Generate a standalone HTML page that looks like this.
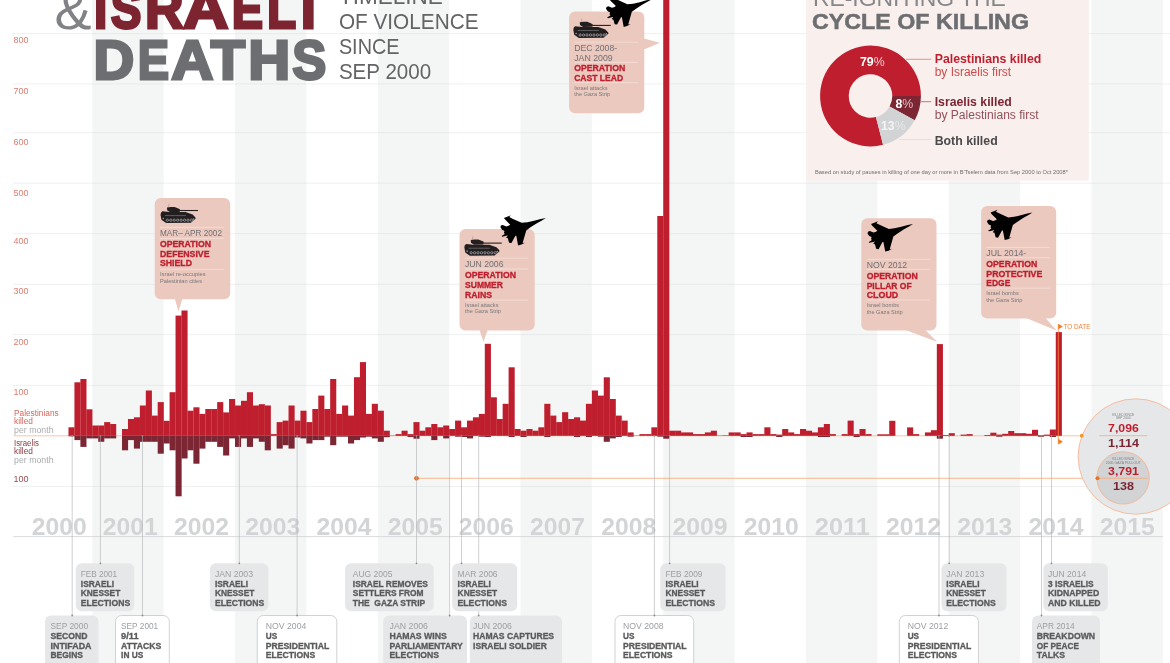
<!DOCTYPE html>
<html lang="en"><head><meta charset="utf-8"><title>Palestinian &amp; Israeli Deaths</title>
<style>html,body{margin:0;padding:0;background:#fff}body{width:1170px;height:663px;overflow:hidden}svg{display:block}text{font-family:"Liberation Sans", sans-serif}</style>
</head><body>
<svg width="1170" height="663" viewBox="0 0 1170 663">
<rect width="1170" height="663" fill="#fff"/>
<g fill="#f4f6f6">
<rect x="92.27" y="0" width="71.37" height="663"/>
<rect x="235.01" y="0" width="71.37" height="663"/>
<rect x="377.75" y="0" width="71.37" height="663"/>
<rect x="520.49" y="0" width="71.37" height="663"/>
<rect x="663.23" y="0" width="71.37" height="663"/>
<rect x="805.97" y="0" width="71.37" height="663"/>
<rect x="948.71" y="0" width="71.37" height="663"/>
<rect x="1091.45" y="0" width="71.37" height="663"/>
</g>
<g stroke="#d9dada" stroke-width="0.7" stroke-dasharray="1.2 0.8">
<line x1="13.5" y1="385.4" x2="1170" y2="385.4"/>
<line x1="13.5" y1="334.6" x2="1170" y2="334.6"/>
<line x1="13.5" y1="284.3" x2="1170" y2="284.3"/>
<line x1="13.5" y1="233.6" x2="1170" y2="233.6"/>
<line x1="13.5" y1="183.2" x2="1170" y2="183.2"/>
<line x1="13.5" y1="132.7" x2="1170" y2="132.7"/>
<line x1="13.5" y1="83.9" x2="1170" y2="83.9"/>
<line x1="13.5" y1="33.6" x2="1170" y2="33.6"/>
<line x1="13.5" y1="486.5" x2="1170" y2="486.5"/>
</g>
<g font-size="8.5" fill="#dc7c70">
<text x="13.6" y="394.8" textLength="15" lengthAdjust="spacingAndGlyphs">100</text>
<text x="13.6" y="344.5" textLength="15" lengthAdjust="spacingAndGlyphs">200</text>
<text x="13.6" y="294.3" textLength="15" lengthAdjust="spacingAndGlyphs">300</text>
<text x="13.6" y="243.6" textLength="15" lengthAdjust="spacingAndGlyphs">400</text>
<text x="13.6" y="195.5" textLength="15" lengthAdjust="spacingAndGlyphs">500</text>
<text x="13.6" y="144.9" textLength="15" lengthAdjust="spacingAndGlyphs">600</text>
<text x="13.6" y="94" textLength="15" lengthAdjust="spacingAndGlyphs">700</text>
<text x="13.6" y="43.1" textLength="15" lengthAdjust="spacingAndGlyphs">800</text>
</g>
<text x="13.6" y="482.3" font-size="8.5" fill="#9a4b52" textLength="15" lengthAdjust="spacingAndGlyphs">100</text>
<g font-size="8.3">
<text x="14" y="416.2" fill="#d6665c" textLength="44.7" lengthAdjust="spacingAndGlyphs">Palestinians</text>
<text x="14" y="424.4" fill="#d6665c">killed</text>
<text x="14" y="432.6" fill="#aaacae" textLength="39.6" lengthAdjust="spacingAndGlyphs">per month</text>
<text x="14" y="445.5" fill="#8a3a44" textLength="24.8" lengthAdjust="spacingAndGlyphs">Israelis</text>
<text x="14" y="454.2" fill="#8a3a44">killed</text>
<text x="14" y="462.5" fill="#aaacae" textLength="39.6" lengthAdjust="spacingAndGlyphs">per month</text>
</g>
<text x="54.6" y="29.2" font-size="54" fill="#808285" textLength="37" lengthAdjust="spacingAndGlyphs">&amp;</text>
<text y="27.7" font-size="55.8" font-weight="bold" fill="#7d2431" stroke="#7d2431" stroke-width="2.8" stroke-linejoin="miter"><tspan x="93.98" textLength="13.32" lengthAdjust="spacingAndGlyphs">I</tspan><tspan x="110.65" textLength="30.69" lengthAdjust="spacingAndGlyphs">S</tspan><tspan x="144.95" textLength="38.52" lengthAdjust="spacingAndGlyphs">R</tspan><tspan x="182.95" textLength="45.44" lengthAdjust="spacingAndGlyphs">A</tspan><tspan x="231.84" textLength="31.32" lengthAdjust="spacingAndGlyphs">E</tspan><tspan x="266.99" textLength="29.19" lengthAdjust="spacingAndGlyphs">L</tspan><tspan x="300.77" textLength="15.18" lengthAdjust="spacingAndGlyphs">I</tspan></text>
<text y="79.4" font-size="55.8" font-weight="bold" fill="#6d6e71" stroke="#6d6e71" stroke-width="2.8" stroke-linejoin="miter"><tspan x="93.46" textLength="40.75" lengthAdjust="spacingAndGlyphs">D</tspan><tspan x="137.84" textLength="31.32" lengthAdjust="spacingAndGlyphs">E</tspan><tspan x="171.28" textLength="42.15" lengthAdjust="spacingAndGlyphs">A</tspan><tspan x="210.8" textLength="34.4" lengthAdjust="spacingAndGlyphs">T</tspan><tspan x="248.26" textLength="42" lengthAdjust="spacingAndGlyphs">H</tspan><tspan x="292.22" textLength="34.06" lengthAdjust="spacingAndGlyphs">S</tspan></text>
<g font-size="21.4" fill="#636466">
<text x="338.9" y="4.2" textLength="104" lengthAdjust="spacingAndGlyphs">TIMELINE</text>
<text x="338.9" y="29.2" textLength="139.6" lengthAdjust="spacingAndGlyphs">OF VIOLENCE</text>
<text x="338.9" y="54" textLength="60.6" lengthAdjust="spacingAndGlyphs">SINCE</text>
<text x="338.9" y="78.8" textLength="92.3" lengthAdjust="spacingAndGlyphs">SEP 2000</text>
</g>
<line x1="13.5" y1="435.8" x2="1081.8" y2="435.8" stroke="#f7b58f" stroke-width="0.8"/>
<g fill="#be1e2d">
<rect x="68.48" y="427.3" width="6.1" height="8.5"/>
<rect x="74.43" y="382.3" width="6.1" height="53.5"/>
<rect x="80.38" y="379" width="6.1" height="56.8"/>
<rect x="86.32" y="409.3" width="6.1" height="26.5"/>
<rect x="92.27" y="425.5" width="6.1" height="10.3"/>
<rect x="98.22" y="425.5" width="6.1" height="10.3"/>
<rect x="104.17" y="422.1" width="6.1" height="13.7"/>
<rect x="110.11" y="424" width="6.1" height="11.8"/>
<rect x="122.01" y="429" width="6.1" height="6.8"/>
<rect x="127.96" y="419" width="6.1" height="16.8"/>
<rect x="133.9" y="417.3" width="6.1" height="18.5"/>
<rect x="139.85" y="405.5" width="6.1" height="30.3"/>
<rect x="145.8" y="390.5" width="6.1" height="45.3"/>
<rect x="151.75" y="415.6" width="6.1" height="20.2"/>
<rect x="157.69" y="402.1" width="6.1" height="33.7"/>
<rect x="163.64" y="420.8" width="6.1" height="15"/>
<rect x="169.59" y="392.2" width="6.1" height="43.6"/>
<rect x="175.54" y="315.6" width="6.1" height="120.2"/>
<rect x="181.48" y="310.5" width="6.1" height="125.3"/>
<rect x="187.43" y="410.7" width="6.1" height="25.1"/>
<rect x="193.38" y="407.3" width="6.1" height="28.5"/>
<rect x="199.33" y="413.9" width="6.1" height="21.9"/>
<rect x="205.27" y="409" width="6.1" height="26.8"/>
<rect x="211.22" y="409" width="6.1" height="26.8"/>
<rect x="217.17" y="402.1" width="6.1" height="33.7"/>
<rect x="223.12" y="412.4" width="6.1" height="23.4"/>
<rect x="229.06" y="399" width="6.1" height="36.8"/>
<rect x="235.01" y="405.5" width="6.1" height="30.3"/>
<rect x="240.96" y="400.8" width="6.1" height="35"/>
<rect x="246.91" y="392.2" width="6.1" height="43.6"/>
<rect x="252.85" y="405.5" width="6.1" height="30.3"/>
<rect x="258.8" y="404.2" width="6.1" height="31.6"/>
<rect x="264.75" y="405.5" width="6.1" height="30.3"/>
<rect x="270.69" y="434.1" width="6.1" height="1.7"/>
<rect x="276.64" y="422.1" width="6.1" height="13.7"/>
<rect x="282.59" y="420.6" width="6.1" height="15.2"/>
<rect x="288.54" y="405.5" width="6.1" height="30.3"/>
<rect x="294.49" y="420.6" width="6.1" height="15.2"/>
<rect x="300.43" y="410.7" width="6.1" height="25.1"/>
<rect x="306.38" y="422.1" width="6.1" height="13.7"/>
<rect x="312.33" y="409" width="6.1" height="26.8"/>
<rect x="318.28" y="395.6" width="6.1" height="40.2"/>
<rect x="324.22" y="409" width="6.1" height="26.8"/>
<rect x="330.17" y="379" width="6.1" height="56.8"/>
<rect x="336.12" y="413.9" width="6.1" height="21.9"/>
<rect x="342.06" y="405.5" width="6.1" height="30.3"/>
<rect x="348.01" y="415.6" width="6.1" height="20.2"/>
<rect x="353.96" y="377.2" width="6.1" height="58.6"/>
<rect x="359.91" y="362.1" width="6.1" height="73.7"/>
<rect x="365.86" y="413.9" width="6.1" height="21.9"/>
<rect x="371.8" y="403.8" width="6.1" height="32"/>
<rect x="377.75" y="410.7" width="6.1" height="25.1"/>
<rect x="383.7" y="430.7" width="6.1" height="5.1"/>
<rect x="389.65" y="435.5" width="6.1" height="0.3"/>
<rect x="395.59" y="434.1" width="6.1" height="1.7"/>
<rect x="401.54" y="430.7" width="6.1" height="5.1"/>
<rect x="407.49" y="434.1" width="6.1" height="1.7"/>
<rect x="413.44" y="422.1" width="6.1" height="13.7"/>
<rect x="419.38" y="430.7" width="6.1" height="5.1"/>
<rect x="425.33" y="427.3" width="6.1" height="8.5"/>
<rect x="431.28" y="424" width="6.1" height="11.8"/>
<rect x="437.23" y="427.3" width="6.1" height="8.5"/>
<rect x="443.17" y="425.5" width="6.1" height="10.3"/>
<rect x="449.12" y="429" width="6.1" height="6.8"/>
<rect x="455.07" y="420.6" width="6.1" height="15.2"/>
<rect x="461.02" y="427.3" width="6.1" height="8.5"/>
<rect x="466.96" y="420.6" width="6.1" height="15.2"/>
<rect x="472.91" y="417.3" width="6.1" height="18.5"/>
<rect x="478.86" y="413.9" width="6.1" height="21.9"/>
<rect x="484.81" y="343.8" width="6.1" height="92"/>
<rect x="490.75" y="397.3" width="6.1" height="38.5"/>
<rect x="496.7" y="419" width="6.1" height="16.8"/>
<rect x="502.65" y="403.8" width="6.1" height="32"/>
<rect x="508.6" y="367.3" width="6.1" height="68.5"/>
<rect x="514.54" y="429" width="6.1" height="6.8"/>
<rect x="520.49" y="430.7" width="6.1" height="5.1"/>
<rect x="526.44" y="429" width="6.1" height="6.8"/>
<rect x="532.39" y="430.7" width="6.1" height="5.1"/>
<rect x="538.33" y="427.3" width="6.1" height="8.5"/>
<rect x="544.28" y="403.8" width="6.1" height="32"/>
<rect x="550.23" y="415.6" width="6.1" height="20.2"/>
<rect x="556.18" y="422.1" width="6.1" height="13.7"/>
<rect x="562.12" y="412.2" width="6.1" height="23.6"/>
<rect x="568.07" y="419" width="6.1" height="16.8"/>
<rect x="574.02" y="417.3" width="6.1" height="18.5"/>
<rect x="579.97" y="420.6" width="6.1" height="15.2"/>
<rect x="585.91" y="403.8" width="6.1" height="32"/>
<rect x="591.86" y="390.5" width="6.1" height="45.3"/>
<rect x="597.81" y="395.6" width="6.1" height="40.2"/>
<rect x="603.75" y="377.3" width="6.1" height="58.5"/>
<rect x="609.7" y="399" width="6.1" height="36.8"/>
<rect x="615.65" y="415.6" width="6.1" height="20.2"/>
<rect x="621.6" y="420.6" width="6.1" height="15.2"/>
<rect x="627.55" y="432.4" width="6.1" height="3.4"/>
<rect x="633.49" y="435.5" width="6.1" height="0.3"/>
<rect x="639.44" y="434.1" width="6.1" height="1.7"/>
<rect x="645.39" y="434.1" width="6.1" height="1.7"/>
<rect x="651.34" y="427.3" width="6.1" height="8.5"/>
<rect x="657.28" y="216" width="6.1" height="219.8"/>
<rect x="663.23" y="-9.2" width="6.1" height="445"/>
<rect x="669.18" y="430.7" width="6.1" height="5.1"/>
<rect x="675.12" y="430.7" width="6.1" height="5.1"/>
<rect x="681.07" y="432.4" width="6.1" height="3.4"/>
<rect x="687.02" y="432.4" width="6.1" height="3.4"/>
<rect x="692.97" y="434.1" width="6.1" height="1.7"/>
<rect x="698.92" y="434.1" width="6.1" height="1.7"/>
<rect x="704.86" y="432.4" width="6.1" height="3.4"/>
<rect x="710.81" y="430.7" width="6.1" height="5.1"/>
<rect x="716.76" y="435.5" width="6.1" height="0.3"/>
<rect x="722.71" y="435.3" width="6.1" height="0.5"/>
<rect x="728.65" y="432.4" width="6.1" height="3.4"/>
<rect x="734.6" y="432.4" width="6.1" height="3.4"/>
<rect x="740.55" y="434.1" width="6.1" height="1.7"/>
<rect x="746.5" y="432.4" width="6.1" height="3.4"/>
<rect x="752.44" y="434.1" width="6.1" height="1.7"/>
<rect x="758.39" y="434.1" width="6.1" height="1.7"/>
<rect x="764.34" y="427.3" width="6.1" height="8.5"/>
<rect x="770.29" y="434.1" width="6.1" height="1.7"/>
<rect x="776.23" y="434.6" width="6.1" height="1.2"/>
<rect x="782.18" y="429" width="6.1" height="6.8"/>
<rect x="788.13" y="432.4" width="6.1" height="3.4"/>
<rect x="794.08" y="434.1" width="6.1" height="1.7"/>
<rect x="800.02" y="429" width="6.1" height="6.8"/>
<rect x="805.97" y="430.7" width="6.1" height="5.1"/>
<rect x="811.92" y="432.4" width="6.1" height="3.4"/>
<rect x="817.87" y="427.3" width="6.1" height="8.5"/>
<rect x="823.81" y="424" width="6.1" height="11.8"/>
<rect x="829.76" y="434.1" width="6.1" height="1.7"/>
<rect x="841.66" y="434.1" width="6.1" height="1.7"/>
<rect x="847.6" y="420.6" width="6.1" height="15.2"/>
<rect x="853.55" y="434.1" width="6.1" height="1.7"/>
<rect x="859.5" y="429" width="6.1" height="6.8"/>
<rect x="865.45" y="434.1" width="6.1" height="1.7"/>
<rect x="877.34" y="434.3" width="6.1" height="1.5"/>
<rect x="883.29" y="434.3" width="6.1" height="1.5"/>
<rect x="889.24" y="420.8" width="6.1" height="15"/>
<rect x="907.08" y="427.4" width="6.1" height="8.4"/>
<rect x="913.03" y="434.1" width="6.1" height="1.7"/>
<rect x="924.92" y="432.4" width="6.1" height="3.4"/>
<rect x="930.87" y="430.2" width="6.1" height="5.6"/>
<rect x="936.82" y="344.1" width="6.1" height="91.7"/>
<rect x="942.76" y="435" width="6.1" height="0.8"/>
<rect x="948.71" y="433.2" width="6.1" height="2.6"/>
<rect x="960.61" y="434.6" width="6.1" height="1.2"/>
<rect x="966.55" y="434.1" width="6.1" height="1.7"/>
<rect x="984.4" y="435" width="6.1" height="0.8"/>
<rect x="990.34" y="432.7" width="6.1" height="3.1"/>
<rect x="996.29" y="434.6" width="6.1" height="1.2"/>
<rect x="1002.24" y="433.8" width="6.1" height="2"/>
<rect x="1008.19" y="431" width="6.1" height="4.8"/>
<rect x="1014.13" y="433.2" width="6.1" height="2.6"/>
<rect x="1020.08" y="433.2" width="6.1" height="2.6"/>
<rect x="1026.03" y="433.8" width="6.1" height="2"/>
<rect x="1031.98" y="429.8" width="6.1" height="6"/>
<rect x="1037.92" y="435.2" width="6.1" height="0.6"/>
<rect x="1043.87" y="434.6" width="6.1" height="1.2"/>
<rect x="1049.82" y="429.5" width="6.1" height="6.3"/>
<rect x="1055.77" y="332.1" width="6.1" height="103.7"/>
</g>
<g fill="#7c2633">
<rect x="68.48" y="435.8" width="6.1" height="0.5"/>
<rect x="74.43" y="435.8" width="6.1" height="4.3"/>
<rect x="80.38" y="435.8" width="6.1" height="11.1"/>
<rect x="86.32" y="435.8" width="6.1" height="2.6"/>
<rect x="92.27" y="435.8" width="6.1" height="2.6"/>
<rect x="98.22" y="435.8" width="6.1" height="6"/>
<rect x="104.17" y="435.8" width="6.1" height="2.6"/>
<rect x="110.11" y="435.8" width="6.1" height="2.6"/>
<rect x="122.01" y="435.8" width="6.1" height="14.5"/>
<rect x="127.96" y="435.8" width="6.1" height="4.3"/>
<rect x="133.9" y="435.8" width="6.1" height="12.8"/>
<rect x="139.85" y="435.8" width="6.1" height="6"/>
<rect x="145.8" y="435.8" width="6.1" height="6"/>
<rect x="151.75" y="435.8" width="6.1" height="6"/>
<rect x="157.69" y="435.8" width="6.1" height="17.9"/>
<rect x="163.64" y="435.8" width="6.1" height="7.7"/>
<rect x="169.59" y="435.8" width="6.1" height="14.5"/>
<rect x="175.54" y="435.8" width="6.1" height="60.5"/>
<rect x="181.48" y="435.8" width="6.1" height="22.7"/>
<rect x="187.43" y="435.8" width="6.1" height="14.5"/>
<rect x="193.38" y="435.8" width="6.1" height="27.9"/>
<rect x="199.33" y="435.8" width="6.1" height="12.8"/>
<rect x="205.27" y="435.8" width="6.1" height="6"/>
<rect x="211.22" y="435.8" width="6.1" height="6"/>
<rect x="217.17" y="435.8" width="6.1" height="11.1"/>
<rect x="223.12" y="435.8" width="6.1" height="19.7"/>
<rect x="229.06" y="435.8" width="6.1" height="2.6"/>
<rect x="235.01" y="435.8" width="6.1" height="11.1"/>
<rect x="240.96" y="435.8" width="6.1" height="2.6"/>
<rect x="246.91" y="435.8" width="6.1" height="11.1"/>
<rect x="252.85" y="435.8" width="6.1" height="2.6"/>
<rect x="258.8" y="435.8" width="6.1" height="6"/>
<rect x="264.75" y="435.8" width="6.1" height="14.5"/>
<rect x="276.64" y="435.8" width="6.1" height="12.8"/>
<rect x="282.59" y="435.8" width="6.1" height="9.4"/>
<rect x="288.54" y="435.8" width="6.1" height="12.8"/>
<rect x="294.49" y="435.8" width="6.1" height="1.7"/>
<rect x="300.43" y="435.8" width="6.1" height="2.6"/>
<rect x="306.38" y="435.8" width="6.1" height="7.7"/>
<rect x="312.33" y="435.8" width="6.1" height="4.3"/>
<rect x="318.28" y="435.8" width="6.1" height="4.3"/>
<rect x="324.22" y="435.8" width="6.1" height="0.9"/>
<rect x="330.17" y="435.8" width="6.1" height="9.4"/>
<rect x="336.12" y="435.8" width="6.1" height="0.9"/>
<rect x="342.06" y="435.8" width="6.1" height="0.9"/>
<rect x="348.01" y="435.8" width="6.1" height="7.7"/>
<rect x="353.96" y="435.8" width="6.1" height="4.3"/>
<rect x="359.91" y="435.8" width="6.1" height="1.7"/>
<rect x="365.86" y="435.8" width="6.1" height="0.9"/>
<rect x="371.8" y="435.8" width="6.1" height="2.6"/>
<rect x="377.75" y="435.8" width="6.1" height="6"/>
<rect x="383.7" y="435.8" width="6.1" height="1.4"/>
<rect x="407.49" y="435.8" width="6.1" height="1.2"/>
<rect x="413.44" y="435.8" width="6.1" height="2.9"/>
<rect x="431.28" y="435.8" width="6.1" height="4.3"/>
<rect x="443.17" y="435.8" width="6.1" height="2.6"/>
<rect x="455.07" y="435.8" width="6.1" height="0.9"/>
<rect x="461.02" y="435.8" width="6.1" height="1.2"/>
<rect x="466.96" y="435.8" width="6.1" height="2.6"/>
<rect x="478.86" y="435.8" width="6.1" height="0.9"/>
<rect x="484.81" y="435.8" width="6.1" height="1.2"/>
<rect x="508.6" y="435.8" width="6.1" height="1.2"/>
<rect x="520.49" y="435.8" width="6.1" height="1.2"/>
<rect x="544.28" y="435.8" width="6.1" height="1.2"/>
<rect x="574.02" y="435.8" width="6.1" height="1.2"/>
<rect x="585.91" y="435.8" width="6.1" height="1.2"/>
<rect x="597.81" y="435.8" width="6.1" height="0.9"/>
<rect x="603.75" y="435.8" width="6.1" height="6"/>
<rect x="609.7" y="435.8" width="6.1" height="2.6"/>
<rect x="615.65" y="435.8" width="6.1" height="1.2"/>
<rect x="627.55" y="435.8" width="6.1" height="0.9"/>
<rect x="657.28" y="435.8" width="6.1" height="0.9"/>
<rect x="663.23" y="435.8" width="6.1" height="2.9"/>
<rect x="740.55" y="435.8" width="6.1" height="1.2"/>
<rect x="746.5" y="435.8" width="6.1" height="1.2"/>
<rect x="776.23" y="435.8" width="6.1" height="1.2"/>
<rect x="817.87" y="435.8" width="6.1" height="1.2"/>
<rect x="823.81" y="435.8" width="6.1" height="1.2"/>
<rect x="853.55" y="435.8" width="6.1" height="1.2"/>
<rect x="936.82" y="435.8" width="6.1" height="2.9"/>
<rect x="996.29" y="435.8" width="6.1" height="0.9"/>
<rect x="1037.92" y="435.8" width="6.1" height="0.9"/>
<rect x="1049.82" y="435.8" width="6.1" height="1.2"/>
</g>
<g stroke="#d9583f" stroke-width="0.3" opacity="0.4">
<line x1="74.43" y1="427.3" x2="74.43" y2="435.8"/>
<line x1="80.38" y1="382.3" x2="80.38" y2="435.8"/>
<line x1="86.32" y1="409.3" x2="86.32" y2="435.8"/>
<line x1="92.27" y1="425.5" x2="92.27" y2="435.8"/>
<line x1="98.22" y1="425.5" x2="98.22" y2="435.8"/>
<line x1="104.17" y1="425.5" x2="104.17" y2="435.8"/>
<line x1="110.11" y1="424" x2="110.11" y2="435.8"/>
<line x1="127.96" y1="429" x2="127.96" y2="435.8"/>
<line x1="133.9" y1="419" x2="133.9" y2="435.8"/>
<line x1="139.85" y1="417.3" x2="139.85" y2="435.8"/>
<line x1="145.8" y1="405.5" x2="145.8" y2="435.8"/>
<line x1="151.75" y1="415.6" x2="151.75" y2="435.8"/>
<line x1="157.69" y1="415.6" x2="157.69" y2="435.8"/>
<line x1="163.64" y1="420.8" x2="163.64" y2="435.8"/>
<line x1="169.59" y1="420.8" x2="169.59" y2="435.8"/>
<line x1="175.54" y1="392.2" x2="175.54" y2="435.8"/>
<line x1="181.48" y1="315.6" x2="181.48" y2="435.8"/>
<line x1="187.43" y1="410.7" x2="187.43" y2="435.8"/>
<line x1="193.38" y1="410.7" x2="193.38" y2="435.8"/>
<line x1="199.33" y1="413.9" x2="199.33" y2="435.8"/>
<line x1="205.27" y1="413.9" x2="205.27" y2="435.8"/>
<line x1="211.22" y1="409" x2="211.22" y2="435.8"/>
<line x1="217.17" y1="409" x2="217.17" y2="435.8"/>
<line x1="223.12" y1="412.4" x2="223.12" y2="435.8"/>
<line x1="229.06" y1="412.4" x2="229.06" y2="435.8"/>
<line x1="235.01" y1="405.5" x2="235.01" y2="435.8"/>
<line x1="240.96" y1="405.5" x2="240.96" y2="435.8"/>
<line x1="246.91" y1="400.8" x2="246.91" y2="435.8"/>
<line x1="252.85" y1="405.5" x2="252.85" y2="435.8"/>
<line x1="258.8" y1="405.5" x2="258.8" y2="435.8"/>
<line x1="264.75" y1="405.5" x2="264.75" y2="435.8"/>
<line x1="282.59" y1="422.1" x2="282.59" y2="435.8"/>
<line x1="288.54" y1="420.6" x2="288.54" y2="435.8"/>
<line x1="294.49" y1="420.6" x2="294.49" y2="435.8"/>
<line x1="300.43" y1="420.6" x2="300.43" y2="435.8"/>
<line x1="306.38" y1="422.1" x2="306.38" y2="435.8"/>
<line x1="312.33" y1="422.1" x2="312.33" y2="435.8"/>
<line x1="318.28" y1="409" x2="318.28" y2="435.8"/>
<line x1="324.22" y1="409" x2="324.22" y2="435.8"/>
<line x1="330.17" y1="409" x2="330.17" y2="435.8"/>
<line x1="336.12" y1="413.9" x2="336.12" y2="435.8"/>
<line x1="342.06" y1="413.9" x2="342.06" y2="435.8"/>
<line x1="348.01" y1="415.6" x2="348.01" y2="435.8"/>
<line x1="353.96" y1="415.6" x2="353.96" y2="435.8"/>
<line x1="359.91" y1="377.2" x2="359.91" y2="435.8"/>
<line x1="365.86" y1="413.9" x2="365.86" y2="435.8"/>
<line x1="371.8" y1="413.9" x2="371.8" y2="435.8"/>
<line x1="377.75" y1="410.7" x2="377.75" y2="435.8"/>
<line x1="383.7" y1="430.7" x2="383.7" y2="435.8"/>
<line x1="419.38" y1="430.7" x2="419.38" y2="435.8"/>
<line x1="425.33" y1="430.7" x2="425.33" y2="435.8"/>
<line x1="431.28" y1="427.3" x2="431.28" y2="435.8"/>
<line x1="437.23" y1="427.3" x2="437.23" y2="435.8"/>
<line x1="443.17" y1="427.3" x2="443.17" y2="435.8"/>
<line x1="449.12" y1="429" x2="449.12" y2="435.8"/>
<line x1="455.07" y1="429" x2="455.07" y2="435.8"/>
<line x1="461.02" y1="427.3" x2="461.02" y2="435.8"/>
<line x1="466.96" y1="427.3" x2="466.96" y2="435.8"/>
<line x1="472.91" y1="420.6" x2="472.91" y2="435.8"/>
<line x1="478.86" y1="417.3" x2="478.86" y2="435.8"/>
<line x1="484.81" y1="413.9" x2="484.81" y2="435.8"/>
<line x1="490.75" y1="397.3" x2="490.75" y2="435.8"/>
<line x1="496.7" y1="419" x2="496.7" y2="435.8"/>
<line x1="502.65" y1="419" x2="502.65" y2="435.8"/>
<line x1="508.6" y1="403.8" x2="508.6" y2="435.8"/>
<line x1="514.54" y1="429" x2="514.54" y2="435.8"/>
<line x1="520.49" y1="430.7" x2="520.49" y2="435.8"/>
<line x1="526.44" y1="430.7" x2="526.44" y2="435.8"/>
<line x1="532.39" y1="430.7" x2="532.39" y2="435.8"/>
<line x1="538.33" y1="430.7" x2="538.33" y2="435.8"/>
<line x1="544.28" y1="427.3" x2="544.28" y2="435.8"/>
<line x1="550.23" y1="415.6" x2="550.23" y2="435.8"/>
<line x1="556.18" y1="422.1" x2="556.18" y2="435.8"/>
<line x1="562.12" y1="422.1" x2="562.12" y2="435.8"/>
<line x1="568.07" y1="419" x2="568.07" y2="435.8"/>
<line x1="574.02" y1="419" x2="574.02" y2="435.8"/>
<line x1="579.97" y1="420.6" x2="579.97" y2="435.8"/>
<line x1="585.91" y1="420.6" x2="585.91" y2="435.8"/>
<line x1="591.86" y1="403.8" x2="591.86" y2="435.8"/>
<line x1="597.81" y1="395.6" x2="597.81" y2="435.8"/>
<line x1="603.75" y1="395.6" x2="603.75" y2="435.8"/>
<line x1="609.7" y1="399" x2="609.7" y2="435.8"/>
<line x1="615.65" y1="415.6" x2="615.65" y2="435.8"/>
<line x1="621.6" y1="420.6" x2="621.6" y2="435.8"/>
<line x1="657.28" y1="427.3" x2="657.28" y2="435.8"/>
<line x1="669.18" y1="430.7" x2="669.18" y2="435.8"/>
<line x1="675.12" y1="430.7" x2="675.12" y2="435.8"/>
<line x1="805.97" y1="430.7" x2="805.97" y2="435.8"/>
<line x1="823.81" y1="427.3" x2="823.81" y2="435.8"/>
<line x1="936.82" y1="430.2" x2="936.82" y2="435.8"/>
<line x1="1055.77" y1="429.5" x2="1055.77" y2="435.8"/>
</g>
<line x1="1058.3" y1="324" x2="1058.3" y2="444" stroke="#f5893d" stroke-width="0.8"/>
<path d="M1058.3 323.8 L1062.8 326.6 L1058.3 329.4 Z" fill="#f47b20"/>
<path d="M1058.3 438.8 L1062.8 441.7 L1058.3 444.6 Z" fill="#f47b20"/>
<text x="1063.4" y="329.3" font-size="6.9" fill="#f4823a" textLength="27" lengthAdjust="spacingAndGlyphs">TO DATE</text>
<line x1="416.5" y1="478.3" x2="1097.5" y2="478.3" stroke="#f7a877" stroke-width="0.8"/>
<circle cx="416.5" cy="478.3" r="2.4" fill="#f26f21"/>
<line x1="13.5" y1="536.6" x2="1163" y2="536.6" stroke="#cfd0d2" stroke-width="0.8"/>
<g font-size="23" font-weight="bold" fill="#d3d4d6">
<text x="31.65" y="534.6" textLength="55" lengthAdjust="spacingAndGlyphs">2000</text>
<text x="102.85" y="534.6" textLength="55" lengthAdjust="spacingAndGlyphs">2001</text>
<text x="174.05" y="534.6" textLength="55" lengthAdjust="spacingAndGlyphs">2002</text>
<text x="245.25" y="534.6" textLength="55" lengthAdjust="spacingAndGlyphs">2003</text>
<text x="316.45" y="534.6" textLength="55" lengthAdjust="spacingAndGlyphs">2004</text>
<text x="387.65" y="534.6" textLength="55" lengthAdjust="spacingAndGlyphs">2005</text>
<text x="458.85" y="534.6" textLength="55" lengthAdjust="spacingAndGlyphs">2006</text>
<text x="530.05" y="534.6" textLength="55" lengthAdjust="spacingAndGlyphs">2007</text>
<text x="601.25" y="534.6" textLength="55" lengthAdjust="spacingAndGlyphs">2008</text>
<text x="672.45" y="534.6" textLength="55" lengthAdjust="spacingAndGlyphs">2009</text>
<text x="743.65" y="534.6" textLength="55" lengthAdjust="spacingAndGlyphs">2010</text>
<text x="814.85" y="534.6" textLength="55" lengthAdjust="spacingAndGlyphs">2011</text>
<text x="886.05" y="534.6" textLength="55" lengthAdjust="spacingAndGlyphs">2012</text>
<text x="957.25" y="534.6" textLength="55" lengthAdjust="spacingAndGlyphs">2013</text>
<text x="1028.45" y="534.6" textLength="55" lengthAdjust="spacingAndGlyphs">2014</text>
<text x="1099.65" y="534.6" textLength="55" lengthAdjust="spacingAndGlyphs">2015</text>
</g>
<g stroke="#aeb0b3" stroke-width="0.6">
<line x1="72.2" y1="435.8" x2="72.2" y2="615.5"/>
<line x1="142.5" y1="435.8" x2="142.5" y2="615.5"/>
<line x1="297.1" y1="435.8" x2="297.1" y2="615.5"/>
<line x1="449.6" y1="435.8" x2="449.6" y2="615.5"/>
<line x1="478.7" y1="435.8" x2="478.7" y2="615.5"/>
<line x1="654.4" y1="435.8" x2="654.4" y2="615.5"/>
<line x1="939" y1="435.8" x2="939" y2="615.5"/>
<line x1="1041.5" y1="435.8" x2="1041.5" y2="615.5"/>
<line x1="100.4" y1="435.8" x2="100.4" y2="563.3"/>
<line x1="239.3" y1="435.8" x2="239.3" y2="563.3"/>
<line x1="416.5" y1="435.8" x2="416.5" y2="563.3"/>
<line x1="461.5" y1="435.8" x2="461.5" y2="563.3"/>
<line x1="669.6" y1="435.8" x2="669.6" y2="563.3"/>
<line x1="949.2" y1="435.8" x2="949.2" y2="563.3"/>
<line x1="1051.5" y1="435.8" x2="1051.5" y2="563.3"/>
</g>
<g fill="#8a8c8f">
<circle cx="72.2" cy="435.8" r="0.9"/>
<circle cx="142.5" cy="435.8" r="0.9"/>
<circle cx="297.1" cy="435.8" r="0.9"/>
<circle cx="449.6" cy="435.8" r="0.9"/>
<circle cx="478.7" cy="435.8" r="0.9"/>
<circle cx="654.4" cy="435.8" r="0.9"/>
<circle cx="939" cy="435.8" r="0.9"/>
<circle cx="1041.5" cy="435.8" r="0.9"/>
<circle cx="100.4" cy="435.8" r="0.9"/>
<circle cx="239.3" cy="435.8" r="0.9"/>
<circle cx="416.5" cy="435.8" r="0.9"/>
<circle cx="461.5" cy="435.8" r="0.9"/>
<circle cx="669.6" cy="435.8" r="0.9"/>
<circle cx="949.2" cy="435.8" r="0.9"/>
<circle cx="1051.5" cy="435.8" r="0.9"/>
</g>
<rect x="45" y="615.5" width="53.4" height="54.5" rx="6" fill="#e6e7e8"/>
<circle cx="72.2" cy="615.5" r="0.9" fill="#8a8c8f"/>
<text x="50.5" y="629.2" font-size="8.5" fill="#9c9ea1" textLength="37.6" lengthAdjust="spacingAndGlyphs">SEP 2000</text>
<text x="50.5" y="638.95" font-size="8.5" font-weight="bold" fill="#595a5c" stroke="#595a5c" stroke-width="0.3" textLength="37.1" lengthAdjust="spacingAndGlyphs">SECOND</text>
<text x="50.5" y="648.62" font-size="8.5" font-weight="bold" fill="#595a5c" stroke="#595a5c" stroke-width="0.3" textLength="41" lengthAdjust="spacingAndGlyphs">INTIFADA</text>
<text x="50.5" y="658.29" font-size="8.5" font-weight="bold" fill="#595a5c" stroke="#595a5c" stroke-width="0.3" textLength="32.4" lengthAdjust="spacingAndGlyphs">BEGINS</text>
<rect x="115.5" y="615.5" width="53.8" height="54.5" rx="6" fill="#fff" stroke="#c4c6c8" stroke-width="0.8"/>
<circle cx="142.5" cy="615.5" r="0.9" fill="#8a8c8f"/>
<text x="121.1" y="629.2" font-size="8.5" fill="#9c9ea1" textLength="37.1" lengthAdjust="spacingAndGlyphs">SEP 2001</text>
<text x="121.1" y="638.95" font-size="8.5" font-weight="bold" fill="#595a5c" stroke="#595a5c" stroke-width="0.3" textLength="17.6" lengthAdjust="spacingAndGlyphs">9/11</text>
<text x="121.1" y="648.62" font-size="8.5" font-weight="bold" fill="#595a5c" stroke="#595a5c" stroke-width="0.3" textLength="40.2" lengthAdjust="spacingAndGlyphs">ATTACKS</text>
<text x="121.1" y="658.29" font-size="8.5" font-weight="bold" fill="#595a5c" stroke="#595a5c" stroke-width="0.3" textLength="22.2" lengthAdjust="spacingAndGlyphs">IN US</text>
<rect x="257.3" y="615.5" width="79.5" height="54.5" rx="6" fill="#fff" stroke="#c4c6c8" stroke-width="0.8"/>
<circle cx="297.1" cy="615.5" r="0.9" fill="#8a8c8f"/>
<text x="265.8" y="629.2" font-size="8.5" fill="#9c9ea1" textLength="40.5" lengthAdjust="spacingAndGlyphs">NOV 2004</text>
<text x="265.8" y="638.95" font-size="8.5" font-weight="bold" fill="#595a5c" stroke="#595a5c" stroke-width="0.3" textLength="11.4" lengthAdjust="spacingAndGlyphs">US</text>
<text x="265.8" y="648.62" font-size="8.5" font-weight="bold" fill="#595a5c" stroke="#595a5c" stroke-width="0.3" textLength="63.5" lengthAdjust="spacingAndGlyphs">PRESIDENTIAL</text>
<text x="265.8" y="658.29" font-size="8.5" font-weight="bold" fill="#595a5c" stroke="#595a5c" stroke-width="0.3" textLength="49.4" lengthAdjust="spacingAndGlyphs">ELECTIONS</text>
<rect x="383.2" y="615.5" width="83.8" height="54.5" rx="6" fill="#e6e7e8"/>
<circle cx="449.6" cy="615.5" r="0.9" fill="#8a8c8f"/>
<text x="389.6" y="629.2" font-size="8.5" fill="#9c9ea1" textLength="38.4" lengthAdjust="spacingAndGlyphs">JAN 2006</text>
<text x="389.6" y="638.95" font-size="8.5" font-weight="bold" fill="#595a5c" stroke="#595a5c" stroke-width="0.3" textLength="57.2" lengthAdjust="spacingAndGlyphs">HAMAS WINS</text>
<text x="389.6" y="648.62" font-size="8.5" font-weight="bold" fill="#595a5c" stroke="#595a5c" stroke-width="0.3" textLength="73.3" lengthAdjust="spacingAndGlyphs">PARLIAMENTARY</text>
<text x="389.6" y="658.29" font-size="8.5" font-weight="bold" fill="#595a5c" stroke="#595a5c" stroke-width="0.3" textLength="49.4" lengthAdjust="spacingAndGlyphs">ELECTIONS</text>
<rect x="469.8" y="615.5" width="92.2" height="54.5" rx="6" fill="#e6e7e8"/>
<circle cx="478.7" cy="615.5" r="0.9" fill="#8a8c8f"/>
<text x="473.1" y="629.2" font-size="8.5" fill="#9c9ea1" textLength="38.8" lengthAdjust="spacingAndGlyphs">JUN 2006</text>
<text x="473.1" y="638.95" font-size="8.5" font-weight="bold" fill="#595a5c" stroke="#595a5c" stroke-width="0.3" textLength="81" lengthAdjust="spacingAndGlyphs">HAMAS CAPTURES</text>
<text x="473.1" y="648.62" font-size="8.5" font-weight="bold" fill="#595a5c" stroke="#595a5c" stroke-width="0.3" textLength="73.8" lengthAdjust="spacingAndGlyphs">ISRAELI SOLDIER</text>
<rect x="615" y="615.5" width="78.7" height="54.5" rx="6" fill="#fff" stroke="#c4c6c8" stroke-width="0.8"/>
<circle cx="654.4" cy="615.5" r="0.9" fill="#8a8c8f"/>
<text x="623.1" y="629.2" font-size="8.5" fill="#9c9ea1" textLength="40.5" lengthAdjust="spacingAndGlyphs">NOV 2008</text>
<text x="623.1" y="638.95" font-size="8.5" font-weight="bold" fill="#595a5c" stroke="#595a5c" stroke-width="0.3" textLength="11.4" lengthAdjust="spacingAndGlyphs">US</text>
<text x="623.1" y="648.62" font-size="8.5" font-weight="bold" fill="#595a5c" stroke="#595a5c" stroke-width="0.3" textLength="63.5" lengthAdjust="spacingAndGlyphs">PRESIDENTIAL</text>
<text x="623.1" y="658.29" font-size="8.5" font-weight="bold" fill="#595a5c" stroke="#595a5c" stroke-width="0.3" textLength="49.4" lengthAdjust="spacingAndGlyphs">ELECTIONS</text>
<rect x="899.3" y="615.5" width="79.1" height="54.5" rx="6" fill="#fff" stroke="#c4c6c8" stroke-width="0.8"/>
<circle cx="939" cy="615.5" r="0.9" fill="#8a8c8f"/>
<text x="907.7" y="629.2" font-size="8.5" fill="#9c9ea1" textLength="40.6" lengthAdjust="spacingAndGlyphs">NOV 2012</text>
<text x="907.7" y="638.95" font-size="8.5" font-weight="bold" fill="#595a5c" stroke="#595a5c" stroke-width="0.3" textLength="11.4" lengthAdjust="spacingAndGlyphs">US</text>
<text x="907.7" y="648.62" font-size="8.5" font-weight="bold" fill="#595a5c" stroke="#595a5c" stroke-width="0.3" textLength="63.5" lengthAdjust="spacingAndGlyphs">PRESIDENTIAL</text>
<text x="907.7" y="658.29" font-size="8.5" font-weight="bold" fill="#595a5c" stroke="#595a5c" stroke-width="0.3" textLength="49.4" lengthAdjust="spacingAndGlyphs">ELECTIONS</text>
<rect x="1032" y="615.5" width="67.9" height="54.5" rx="6" fill="#e6e7e8"/>
<circle cx="1041.5" cy="615.5" r="0.9" fill="#8a8c8f"/>
<text x="1036.8" y="629.2" font-size="8.5" fill="#9c9ea1" textLength="37.9" lengthAdjust="spacingAndGlyphs">APR 2014</text>
<text x="1036.8" y="638.95" font-size="8.5" font-weight="bold" fill="#595a5c" stroke="#595a5c" stroke-width="0.3" textLength="58.3" lengthAdjust="spacingAndGlyphs">BREAKDOWN</text>
<text x="1036.8" y="648.62" font-size="8.5" font-weight="bold" fill="#595a5c" stroke="#595a5c" stroke-width="0.3" textLength="42.1" lengthAdjust="spacingAndGlyphs">OF PEACE</text>
<text x="1036.8" y="658.29" font-size="8.5" font-weight="bold" fill="#595a5c" stroke="#595a5c" stroke-width="0.3" textLength="28.1" lengthAdjust="spacingAndGlyphs">TALKS</text>
<rect x="75.8" y="563.3" width="58.5" height="47.9" rx="6" fill="#e6e7e8"/>
<circle cx="100.4" cy="563.3" r="0.9" fill="#8a8c8f"/>
<text x="80.8" y="577" font-size="8.5" fill="#9c9ea1" textLength="36.3" lengthAdjust="spacingAndGlyphs">FEB 2001</text>
<text x="80.8" y="586.75" font-size="8.5" font-weight="bold" fill="#595a5c" stroke="#595a5c" stroke-width="0.3" textLength="33.2" lengthAdjust="spacingAndGlyphs">ISRAELI</text>
<text x="80.8" y="596.42" font-size="8.5" font-weight="bold" fill="#595a5c" stroke="#595a5c" stroke-width="0.3" textLength="39.5" lengthAdjust="spacingAndGlyphs">KNESSET</text>
<text x="80.8" y="606.09" font-size="8.5" font-weight="bold" fill="#595a5c" stroke="#595a5c" stroke-width="0.3" textLength="49.4" lengthAdjust="spacingAndGlyphs">ELECTIONS</text>
<rect x="209.9" y="563.3" width="58.5" height="47.9" rx="6" fill="#e6e7e8"/>
<circle cx="239.3" cy="563.3" r="0.9" fill="#8a8c8f"/>
<text x="214.9" y="577" font-size="8.5" fill="#9c9ea1" textLength="38.1" lengthAdjust="spacingAndGlyphs">JAN 2003</text>
<text x="214.9" y="586.75" font-size="8.5" font-weight="bold" fill="#595a5c" stroke="#595a5c" stroke-width="0.3" textLength="33.2" lengthAdjust="spacingAndGlyphs">ISRAELI</text>
<text x="214.9" y="596.42" font-size="8.5" font-weight="bold" fill="#595a5c" stroke="#595a5c" stroke-width="0.3" textLength="39.5" lengthAdjust="spacingAndGlyphs">KNESSET</text>
<text x="214.9" y="606.09" font-size="8.5" font-weight="bold" fill="#595a5c" stroke="#595a5c" stroke-width="0.3" textLength="49.4" lengthAdjust="spacingAndGlyphs">ELECTIONS</text>
<rect x="345.1" y="563.3" width="88.6" height="47.9" rx="6" fill="#e6e7e8"/>
<circle cx="416.5" cy="563.3" r="0.9" fill="#8a8c8f"/>
<text x="352.8" y="577" font-size="8.5" fill="#9c9ea1" textLength="39.6" lengthAdjust="spacingAndGlyphs">AUG 2005</text>
<text x="352.8" y="586.75" font-size="8.5" font-weight="bold" fill="#595a5c" stroke="#595a5c" stroke-width="0.3" textLength="75.1" lengthAdjust="spacingAndGlyphs">ISRAEL REMOVES</text>
<text x="352.8" y="596.42" font-size="8.5" font-weight="bold" fill="#595a5c" stroke="#595a5c" stroke-width="0.3" textLength="70.7" lengthAdjust="spacingAndGlyphs">SETTLERS FROM</text>
<text x="352.8" y="606.09" font-size="8.5" font-weight="bold" fill="#595a5c" stroke="#595a5c" stroke-width="0.3" textLength="72.4" lengthAdjust="spacingAndGlyphs">THE&#160; GAZA STRIP</text>
<rect x="452.2" y="563.3" width="65" height="47.9" rx="6" fill="#e6e7e8"/>
<circle cx="461.5" cy="563.3" r="0.9" fill="#8a8c8f"/>
<text x="457.6" y="577" font-size="8.5" fill="#9c9ea1" textLength="40" lengthAdjust="spacingAndGlyphs">MAR 2006</text>
<text x="457.6" y="586.75" font-size="8.5" font-weight="bold" fill="#595a5c" stroke="#595a5c" stroke-width="0.3" textLength="33.2" lengthAdjust="spacingAndGlyphs">ISRAELI</text>
<text x="457.6" y="596.42" font-size="8.5" font-weight="bold" fill="#595a5c" stroke="#595a5c" stroke-width="0.3" textLength="39.5" lengthAdjust="spacingAndGlyphs">KNESSET</text>
<text x="457.6" y="606.09" font-size="8.5" font-weight="bold" fill="#595a5c" stroke="#595a5c" stroke-width="0.3" textLength="49.4" lengthAdjust="spacingAndGlyphs">ELECTIONS</text>
<rect x="660.3" y="563.3" width="65.3" height="47.9" rx="6" fill="#e6e7e8"/>
<circle cx="669.6" cy="563.3" r="0.9" fill="#8a8c8f"/>
<text x="665.5" y="577" font-size="8.5" fill="#9c9ea1" textLength="36.9" lengthAdjust="spacingAndGlyphs">FEB 2009</text>
<text x="665.5" y="586.75" font-size="8.5" font-weight="bold" fill="#595a5c" stroke="#595a5c" stroke-width="0.3" textLength="33.2" lengthAdjust="spacingAndGlyphs">ISRAELI</text>
<text x="665.5" y="596.42" font-size="8.5" font-weight="bold" fill="#595a5c" stroke="#595a5c" stroke-width="0.3" textLength="39.5" lengthAdjust="spacingAndGlyphs">KNESSET</text>
<text x="665.5" y="606.09" font-size="8.5" font-weight="bold" fill="#595a5c" stroke="#595a5c" stroke-width="0.3" textLength="49.4" lengthAdjust="spacingAndGlyphs">ELECTIONS</text>
<rect x="941.5" y="563.3" width="65" height="47.9" rx="6" fill="#e6e7e8"/>
<circle cx="949.2" cy="563.3" r="0.9" fill="#8a8c8f"/>
<text x="946.3" y="577" font-size="8.5" fill="#9c9ea1" textLength="37.9" lengthAdjust="spacingAndGlyphs">JAN 2013</text>
<text x="946.3" y="586.75" font-size="8.5" font-weight="bold" fill="#595a5c" stroke="#595a5c" stroke-width="0.3" textLength="33.2" lengthAdjust="spacingAndGlyphs">ISRAELI</text>
<text x="946.3" y="596.42" font-size="8.5" font-weight="bold" fill="#595a5c" stroke="#595a5c" stroke-width="0.3" textLength="39.5" lengthAdjust="spacingAndGlyphs">KNESSET</text>
<text x="946.3" y="606.09" font-size="8.5" font-weight="bold" fill="#595a5c" stroke="#595a5c" stroke-width="0.3" textLength="49.4" lengthAdjust="spacingAndGlyphs">ELECTIONS</text>
<rect x="1043.3" y="563.3" width="64.5" height="47.9" rx="6" fill="#e6e7e8"/>
<circle cx="1051.5" cy="563.3" r="0.9" fill="#8a8c8f"/>
<text x="1048" y="577" font-size="8.5" fill="#9c9ea1" textLength="38.2" lengthAdjust="spacingAndGlyphs">JUN 2014</text>
<text x="1048" y="586.75" font-size="8.5" font-weight="bold" fill="#595a5c" stroke="#595a5c" stroke-width="0.3" textLength="45.6" lengthAdjust="spacingAndGlyphs">3 ISRAELIS</text>
<text x="1048" y="596.42" font-size="8.5" font-weight="bold" fill="#595a5c" stroke="#595a5c" stroke-width="0.3" textLength="51.2" lengthAdjust="spacingAndGlyphs">KIDNAPPED</text>
<text x="1048" y="606.09" font-size="8.5" font-weight="bold" fill="#595a5c" stroke="#595a5c" stroke-width="0.3" textLength="52.5" lengthAdjust="spacingAndGlyphs">AND KILLED</text>
<path d="M174.9 299 L182.4 299 L178.5 311.4 Z" fill="#ecc9bf"/>
<rect x="154.7" y="198" width="75.5" height="101.3" rx="6" fill="#ecc9bf"/>
<line x1="160" y1="227.4" x2="223.9" y2="227.4" stroke="#f6e3dd" stroke-width="0.7"/>
<text x="160" y="235.7" font-size="8.3" fill="#6f7073" textLength="62" lengthAdjust="spacingAndGlyphs">MAR– APR 2002</text>
<line x1="160" y1="238.5" x2="223.9" y2="238.5" stroke="#f6e3dd" stroke-width="0.7"/>
<text x="160" y="246.8" font-size="8.3" font-weight="bold" fill="#be1e2d" stroke="#be1e2d" stroke-width="0.3" textLength="51" lengthAdjust="spacingAndGlyphs">OPERATION</text>
<text x="160" y="256.8" font-size="8.3" font-weight="bold" fill="#be1e2d" stroke="#be1e2d" stroke-width="0.3" textLength="49.5" lengthAdjust="spacingAndGlyphs">DEFENSIVE</text>
<text x="160" y="266.4" font-size="8.3" font-weight="bold" fill="#be1e2d" stroke="#be1e2d" stroke-width="0.3" textLength="32" lengthAdjust="spacingAndGlyphs">SHIELD</text>
<line x1="160" y1="269.3" x2="223.9" y2="269.3" stroke="#f6e3dd" stroke-width="0.7"/>
<text x="160" y="275.9" font-size="5" fill="#77787b" textLength="45.6" lengthAdjust="spacingAndGlyphs">Israel re-occupies</text>
<text x="160" y="282.5" font-size="5" fill="#77787b" textLength="42" lengthAdjust="spacingAndGlyphs">Palestinian cities</text>
<g transform="translate(160.6 203.8)"><line x1="8.23" y1="0" x2="8.23" y2="3.16" stroke="#231f20" stroke-width="0.35" opacity="0.6"/><polygon points="6.41,3.59 10.13,3.08 13.92,3.08 18.99,5.19 19.49,6.33 18.99,8.14 9.7,8.35 6.54,6.41" fill="#231f20"/><rect x="18.78" y="6.16" width="18.57" height="1.1" fill="#231f20"/><polygon points="0.42,8.86 1.69,7.51 9.28,8.23 24.89,8.23 32.07,10.76 34.81,13.71 35.11,14.77 30.38,19.07 5.49,19.28 0.84,16.03 -0.08,10.97" fill="#231f20"/><line x1="4.43" y1="11.81" x2="25.4" y2="11.81" stroke="#b9bbbd" stroke-width="0.7" stroke-dasharray="0.5 0.35"/><circle cx="6.75" cy="16.37" r="1.15" fill="none" stroke="#b0b2b4" stroke-width="0.7"/><circle cx="10.19" cy="16.37" r="1.15" fill="none" stroke="#b0b2b4" stroke-width="0.7"/><circle cx="13.63" cy="16.37" r="1.15" fill="none" stroke="#b0b2b4" stroke-width="0.7"/><circle cx="17.07" cy="16.37" r="1.15" fill="none" stroke="#b0b2b4" stroke-width="0.7"/><circle cx="20.51" cy="16.37" r="1.15" fill="none" stroke="#b0b2b4" stroke-width="0.7"/><circle cx="23.95" cy="16.37" r="1.15" fill="none" stroke="#b0b2b4" stroke-width="0.7"/><circle cx="27.38" cy="16.37" r="1.15" fill="none" stroke="#b0b2b4" stroke-width="0.7"/><circle cx="30.82" cy="16.37" r="1.15" fill="none" stroke="#b0b2b4" stroke-width="0.7"/><circle cx="2.74" cy="14.77" r="0.8" fill="#9a9c9e"/><circle cx="32.91" cy="15.19" r="0.8" fill="#9a9c9e"/></g>
<path d="M479.5 330 L487.6 330 L483.5 342 Z" fill="#ecc9bf"/>
<rect x="459.5" y="229" width="75.2" height="101.4" rx="6" fill="#ecc9bf"/>
<line x1="465" y1="258.2" x2="528.4" y2="258.2" stroke="#f6e3dd" stroke-width="0.7"/>
<text x="465" y="266.7" font-size="8.3" fill="#6f7073" textLength="38.5" lengthAdjust="spacingAndGlyphs">JUN 2006</text>
<line x1="465" y1="269" x2="528.4" y2="269" stroke="#f6e3dd" stroke-width="0.7"/>
<text x="465" y="277.7" font-size="8.3" font-weight="bold" fill="#be1e2d" stroke="#be1e2d" stroke-width="0.3" textLength="51" lengthAdjust="spacingAndGlyphs">OPERATION</text>
<text x="465" y="287.5" font-size="8.3" font-weight="bold" fill="#be1e2d" stroke="#be1e2d" stroke-width="0.3" textLength="38" lengthAdjust="spacingAndGlyphs">SUMMER</text>
<text x="465" y="297.5" font-size="8.3" font-weight="bold" fill="#be1e2d" stroke="#be1e2d" stroke-width="0.3" textLength="27" lengthAdjust="spacingAndGlyphs">RAINS</text>
<line x1="465" y1="300.2" x2="528.4" y2="300.2" stroke="#f6e3dd" stroke-width="0.7"/>
<text x="465" y="306.5" font-size="5" fill="#77787b" textLength="33.5" lengthAdjust="spacingAndGlyphs">Israel attacks</text>
<text x="465" y="313.4" font-size="5" fill="#77787b" textLength="36" lengthAdjust="spacingAndGlyphs">the Gaza Strip</text>
<g transform="translate(464.4 236.4)"><line x1="8.23" y1="0" x2="8.23" y2="3.16" stroke="#231f20" stroke-width="0.35" opacity="0.6"/><polygon points="6.41,3.59 10.13,3.08 13.92,3.08 18.99,5.19 19.49,6.33 18.99,8.14 9.7,8.35 6.54,6.41" fill="#231f20"/><rect x="18.78" y="6.16" width="18.57" height="1.1" fill="#231f20"/><polygon points="0.42,8.86 1.69,7.51 9.28,8.23 24.89,8.23 32.07,10.76 34.81,13.71 35.11,14.77 30.38,19.07 5.49,19.28 0.84,16.03 -0.08,10.97" fill="#231f20"/><line x1="4.43" y1="11.81" x2="25.4" y2="11.81" stroke="#b9bbbd" stroke-width="0.7" stroke-dasharray="0.5 0.35"/><circle cx="6.75" cy="16.37" r="1.15" fill="none" stroke="#b0b2b4" stroke-width="0.7"/><circle cx="10.19" cy="16.37" r="1.15" fill="none" stroke="#b0b2b4" stroke-width="0.7"/><circle cx="13.63" cy="16.37" r="1.15" fill="none" stroke="#b0b2b4" stroke-width="0.7"/><circle cx="17.07" cy="16.37" r="1.15" fill="none" stroke="#b0b2b4" stroke-width="0.7"/><circle cx="20.51" cy="16.37" r="1.15" fill="none" stroke="#b0b2b4" stroke-width="0.7"/><circle cx="23.95" cy="16.37" r="1.15" fill="none" stroke="#b0b2b4" stroke-width="0.7"/><circle cx="27.38" cy="16.37" r="1.15" fill="none" stroke="#b0b2b4" stroke-width="0.7"/><circle cx="30.82" cy="16.37" r="1.15" fill="none" stroke="#b0b2b4" stroke-width="0.7"/><circle cx="2.74" cy="14.77" r="0.8" fill="#9a9c9e"/><circle cx="32.91" cy="15.19" r="0.8" fill="#9a9c9e"/></g>
<g transform="translate(500.3 215)"><polygon points="45.56,3.02 40.43,3.92 33.8,5.73 27.16,7.24 21.42,7.85 12.67,3.92 9.05,2.11 10.56,0.18 7.54,1.51 3.62,3.02 4.83,4.53 9.96,9.66 8.15,10.86 6.04,11.47 2.41,9.96 0.6,10.56 0.12,12.37 1.81,14.79 4.22,15.99 3.62,17.8 4.53,19.01 1.21,21.12 2.11,21.73 5.73,20.82 7.54,20.52 5.73,22.63 7.54,23.23 8.75,27.76 11.16,28.06 15.09,20.82 15.99,20.82 17.8,30.48 21.12,29.57 24.74,27.76 22.33,28.06 25.95,15.39 30.18,12.37 36.21,8.45 41.64,5.43" fill="#000"/></g>
<path d="M644 38.5 L660 42.7 L644 49.6 Z" fill="#ecc9bf"/>
<rect x="569.1" y="11.6" width="75.2" height="101.6" rx="6" fill="#ecc9bf"/>
<line x1="574.2" y1="42.2" x2="638" y2="42.2" stroke="#f6e3dd" stroke-width="0.7"/>
<text x="574.2" y="50.8" font-size="8.3" fill="#6f7073" textLength="43" lengthAdjust="spacingAndGlyphs">DEC 2008-</text>
<text x="574.2" y="60.7" font-size="8.3" fill="#6f7073" textLength="38.5" lengthAdjust="spacingAndGlyphs">JAN 2009</text>
<line x1="574.2" y1="62.4" x2="638" y2="62.4" stroke="#f6e3dd" stroke-width="0.7"/>
<text x="574.2" y="70.9" font-size="8.3" font-weight="bold" fill="#be1e2d" stroke="#be1e2d" stroke-width="0.3" textLength="51" lengthAdjust="spacingAndGlyphs">OPERATION</text>
<text x="574.2" y="80.7" font-size="8.3" font-weight="bold" fill="#be1e2d" stroke="#be1e2d" stroke-width="0.3" textLength="49" lengthAdjust="spacingAndGlyphs">CAST LEAD</text>
<line x1="574.2" y1="82.6" x2="638" y2="82.6" stroke="#f6e3dd" stroke-width="0.7"/>
<text x="574.2" y="89.7" font-size="5" fill="#77787b" textLength="33.5" lengthAdjust="spacingAndGlyphs">Israel attacks</text>
<text x="574.2" y="96.2" font-size="5" fill="#77787b" textLength="36" lengthAdjust="spacingAndGlyphs">the Gaza Strip</text>
<g transform="translate(573.4 18.7)"><line x1="8.23" y1="0" x2="8.23" y2="3.16" stroke="#231f20" stroke-width="0.35" opacity="0.6"/><polygon points="6.41,3.59 10.13,3.08 13.92,3.08 18.99,5.19 19.49,6.33 18.99,8.14 9.7,8.35 6.54,6.41" fill="#231f20"/><rect x="18.78" y="6.16" width="18.57" height="1.1" fill="#231f20"/><polygon points="0.42,8.86 1.69,7.51 9.28,8.23 24.89,8.23 32.07,10.76 34.81,13.71 35.11,14.77 30.38,19.07 5.49,19.28 0.84,16.03 -0.08,10.97" fill="#231f20"/><line x1="4.43" y1="11.81" x2="25.4" y2="11.81" stroke="#b9bbbd" stroke-width="0.7" stroke-dasharray="0.5 0.35"/><circle cx="6.75" cy="16.37" r="1.15" fill="none" stroke="#b0b2b4" stroke-width="0.7"/><circle cx="10.19" cy="16.37" r="1.15" fill="none" stroke="#b0b2b4" stroke-width="0.7"/><circle cx="13.63" cy="16.37" r="1.15" fill="none" stroke="#b0b2b4" stroke-width="0.7"/><circle cx="17.07" cy="16.37" r="1.15" fill="none" stroke="#b0b2b4" stroke-width="0.7"/><circle cx="20.51" cy="16.37" r="1.15" fill="none" stroke="#b0b2b4" stroke-width="0.7"/><circle cx="23.95" cy="16.37" r="1.15" fill="none" stroke="#b0b2b4" stroke-width="0.7"/><circle cx="27.38" cy="16.37" r="1.15" fill="none" stroke="#b0b2b4" stroke-width="0.7"/><circle cx="30.82" cy="16.37" r="1.15" fill="none" stroke="#b0b2b4" stroke-width="0.7"/><circle cx="2.74" cy="14.77" r="0.8" fill="#9a9c9e"/><circle cx="32.91" cy="15.19" r="0.8" fill="#9a9c9e"/></g>
<g transform="translate(605.9 -3.6)"><polygon points="45.56,3.02 40.43,3.92 33.8,5.73 27.16,7.24 21.42,7.85 12.67,3.92 9.05,2.11 10.56,0.18 7.54,1.51 3.62,3.02 4.83,4.53 9.96,9.66 8.15,10.86 6.04,11.47 2.41,9.96 0.6,10.56 0.12,12.37 1.81,14.79 4.22,15.99 3.62,17.8 4.53,19.01 1.21,21.12 2.11,21.73 5.73,20.82 7.54,20.52 5.73,22.63 7.54,23.23 8.75,27.76 11.16,28.06 15.09,20.82 15.99,20.82 17.8,30.48 21.12,29.57 24.74,27.76 22.33,28.06 25.95,15.39 30.18,12.37 36.21,8.45 41.64,5.43" fill="#000"/></g>
<path d="M905.6 330 L925.3 330 L937.3 341.9 Z" fill="#ecc9bf"/>
<rect x="861.3" y="218.2" width="75.2" height="112.3" rx="6" fill="#ecc9bf"/>
<line x1="866.7" y1="259.4" x2="930.2" y2="259.4" stroke="#f6e3dd" stroke-width="0.7"/>
<text x="866.7" y="267.9" font-size="8.3" fill="#6f7073" textLength="40.5" lengthAdjust="spacingAndGlyphs">NOV 2012</text>
<line x1="866.7" y1="269.4" x2="930.2" y2="269.4" stroke="#f6e3dd" stroke-width="0.7"/>
<text x="866.7" y="279.1" font-size="8.3" font-weight="bold" fill="#be1e2d" stroke="#be1e2d" stroke-width="0.3" textLength="51" lengthAdjust="spacingAndGlyphs">OPERATION</text>
<text x="866.7" y="288.7" font-size="8.3" font-weight="bold" fill="#be1e2d" stroke="#be1e2d" stroke-width="0.3" textLength="45" lengthAdjust="spacingAndGlyphs">PILLAR OF</text>
<text x="866.7" y="297.9" font-size="8.3" font-weight="bold" fill="#be1e2d" stroke="#be1e2d" stroke-width="0.3" textLength="31.5" lengthAdjust="spacingAndGlyphs">CLOUD</text>
<line x1="866.7" y1="300" x2="930.2" y2="300" stroke="#f6e3dd" stroke-width="0.7"/>
<text x="866.7" y="306.8" font-size="5" fill="#77787b" textLength="32.5" lengthAdjust="spacingAndGlyphs">Israel bombs</text>
<text x="866.7" y="313.7" font-size="5" fill="#77787b" textLength="36" lengthAdjust="spacingAndGlyphs">the Gaza Strip</text>
<g transform="translate(867.4 221.1)"><polygon points="45.56,3.02 40.43,3.92 33.8,5.73 27.16,7.24 21.42,7.85 12.67,3.92 9.05,2.11 10.56,0.18 7.54,1.51 3.62,3.02 4.83,4.53 9.96,9.66 8.15,10.86 6.04,11.47 2.41,9.96 0.6,10.56 0.12,12.37 1.81,14.79 4.22,15.99 3.62,17.8 4.53,19.01 1.21,21.12 2.11,21.73 5.73,20.82 7.54,20.52 5.73,22.63 7.54,23.23 8.75,27.76 11.16,28.06 15.09,20.82 15.99,20.82 17.8,30.48 21.12,29.57 24.74,27.76 22.33,28.06 25.95,15.39 30.18,12.37 36.21,8.45 41.64,5.43" fill="#000"/></g>
<path d="M1026.2 318 L1045.5 318 L1056.9 330.8 Z" fill="#ecc9bf"/>
<rect x="981.1" y="206" width="75.1" height="112.6" rx="6" fill="#ecc9bf"/>
<line x1="986.3" y1="247.4" x2="1049.9" y2="247.4" stroke="#f6e3dd" stroke-width="0.7"/>
<text x="986.3" y="256" font-size="8.3" fill="#6f7073" textLength="40" lengthAdjust="spacingAndGlyphs">JUL 2014-</text>
<line x1="986.3" y1="257.7" x2="1049.9" y2="257.7" stroke="#f6e3dd" stroke-width="0.7"/>
<text x="986.3" y="266.9" font-size="8.3" font-weight="bold" fill="#be1e2d" stroke="#be1e2d" stroke-width="0.3" textLength="51" lengthAdjust="spacingAndGlyphs">OPERATION</text>
<text x="986.3" y="276.5" font-size="8.3" font-weight="bold" fill="#be1e2d" stroke="#be1e2d" stroke-width="0.3" textLength="56" lengthAdjust="spacingAndGlyphs">PROTECTIVE</text>
<text x="986.3" y="285.9" font-size="8.3" font-weight="bold" fill="#be1e2d" stroke="#be1e2d" stroke-width="0.3" textLength="24" lengthAdjust="spacingAndGlyphs">EDGE</text>
<line x1="986.3" y1="288.2" x2="1049.9" y2="288.2" stroke="#f6e3dd" stroke-width="0.7"/>
<text x="986.3" y="295.1" font-size="5" fill="#77787b" textLength="32.5" lengthAdjust="spacingAndGlyphs">Israel bombs</text>
<text x="986.3" y="301.9" font-size="5" fill="#77787b" textLength="36" lengthAdjust="spacingAndGlyphs">the Gaza Strip</text>
<g transform="translate(986.9 209.6)"><polygon points="45.56,3.02 40.43,3.92 33.8,5.73 27.16,7.24 21.42,7.85 12.67,3.92 9.05,2.11 10.56,0.18 7.54,1.51 3.62,3.02 4.83,4.53 9.96,9.66 8.15,10.86 6.04,11.47 2.41,9.96 0.6,10.56 0.12,12.37 1.81,14.79 4.22,15.99 3.62,17.8 4.53,19.01 1.21,21.12 2.11,21.73 5.73,20.82 7.54,20.52 5.73,22.63 7.54,23.23 8.75,27.76 11.16,28.06 15.09,20.82 15.99,20.82 17.8,30.48 21.12,29.57 24.74,27.76 22.33,28.06 25.95,15.39 30.18,12.37 36.21,8.45 41.64,5.43" fill="#000"/></g>
<rect x="806.3" y="-5" width="282.5" height="185.5" fill="#f9efed"/>
<text x="812.9" y="6.3" font-size="22" fill="#85878a" textLength="193" lengthAdjust="spacingAndGlyphs">RE-IGNITING THE</text>
<text x="812" y="28.7" font-size="22" font-weight="bold" fill="#6d6e71" stroke="#6d6e71" stroke-width="0.5" textLength="217" lengthAdjust="spacingAndGlyphs">CYCLE OF KILLING</text>
<path d="M883.03 144.82 A50.4 50.4 0 1 1 920.9 96 L892.3 96 A21.8 21.8 0 1 0 875.92 117.12 Z" fill="#be1e2d"/>
<path d="M920.9 96 A50.4 50.4 0 0 1 914.67 120.28 L889.6 106.5 A21.8 21.8 0 0 0 892.3 96 Z" fill="#7c2633"/>
<path d="M914.67 120.28 A50.4 50.4 0 0 1 883.03 144.82 L875.92 117.12 A21.8 21.8 0 0 0 889.6 106.5 Z" fill="#d1d3d4"/>
<line x1="906" y1="59.3" x2="931.2" y2="59.3" stroke="#d9705f" stroke-width="0.7"/>
<line x1="921" y1="101.7" x2="931.2" y2="101.7" stroke="#9a4b52" stroke-width="0.7"/>
<line x1="899" y1="139.5" x2="931.2" y2="139.5" stroke="#d9dadb" stroke-width="0.7"/>
<text x="860" y="66" font-size="12.3" fill="#fff"><tspan font-weight="bold">79</tspan><tspan fill="#f3cfd0">%</tspan></text>
<text x="895.5" y="108.3" font-size="12.3" fill="#fff"><tspan font-weight="bold">8</tspan><tspan fill="#dcc0c4">%</tspan></text>
<text x="881" y="129.5" font-size="12.3" fill="#f4f4f5"><tspan font-weight="bold">13</tspan><tspan fill="#e6e7e8">%</tspan></text>
<text x="934.7" y="63" font-size="12.3" font-weight="bold" fill="#be1e2d" textLength="106.6" lengthAdjust="spacingAndGlyphs">Palestinians killed</text>
<text x="934.7" y="76" font-size="12" fill="#cf4b4b" textLength="76.5" lengthAdjust="spacingAndGlyphs">by Israelis first</text>
<text x="934.7" y="106" font-size="12.3" font-weight="bold" fill="#7c2633" textLength="77" lengthAdjust="spacingAndGlyphs">Israelis killed</text>
<text x="934.7" y="119" font-size="12" fill="#94505a" textLength="104" lengthAdjust="spacingAndGlyphs">by Palestinians first</text>
<text x="934.7" y="144.7" font-size="12.3" font-weight="bold" fill="#4a4a4c" textLength="63" lengthAdjust="spacingAndGlyphs">Both killed</text>
<text x="814.9" y="174.2" font-size="5.4" fill="#6d6e71" textLength="253" lengthAdjust="spacingAndGlyphs">Based on study of pauses in killing of one day or more in B’Tselem data from Sep 2000 to Oct 2008*</text>
<circle cx="1135.8" cy="456.5" r="57.7" fill="#e6e7e8" stroke="#f7b08a" stroke-width="0.8"/>
<circle cx="1123.1" cy="477.9" r="26.2" fill="#d1d3d4" stroke="#f7b08a" stroke-width="0.8"/>
<line x1="1099.3" y1="435.7" x2="1147.3" y2="435.7" stroke="#f7a877" stroke-width="0.8"/>
<line x1="1097.5" y1="478.3" x2="1147.6" y2="478.3" stroke="#f7a877" stroke-width="0.8"/>
<circle cx="1081.8" cy="435.7" r="1.9" fill="#f7941e"/>
<circle cx="1097.5" cy="478.3" r="2" fill="#f26f21"/>
<g text-anchor="middle" font-size="3.2" fill="#808285">
<text x="1123.3" y="416" textLength="22" lengthAdjust="spacingAndGlyphs">KILLED SINCE</text><text x="1123.3" y="419.2" textLength="14.5" lengthAdjust="spacingAndGlyphs">SEP 2000</text>
<text x="1123.3" y="460.4" textLength="22" lengthAdjust="spacingAndGlyphs">KILLED SINCE</text><text x="1123.3" y="463.6" textLength="35" lengthAdjust="spacingAndGlyphs">2005 GAZA PULLOUT</text>
</g>
<g text-anchor="middle" font-size="10.8" font-weight="bold">
<text x="1123.5" y="431.9" fill="#be1e2d" textLength="30.8" lengthAdjust="spacingAndGlyphs">7,096</text>
<text x="1123.5" y="447.1" fill="#7c2633" textLength="30.8" lengthAdjust="spacingAndGlyphs">1,114</text>
<text x="1123.5" y="475.1" fill="#be1e2d" textLength="30.8" lengthAdjust="spacingAndGlyphs">3,791</text>
<text x="1123.5" y="489.9" fill="#7c2633" textLength="21" lengthAdjust="spacingAndGlyphs">138</text>
</g>
</svg></body></html>
